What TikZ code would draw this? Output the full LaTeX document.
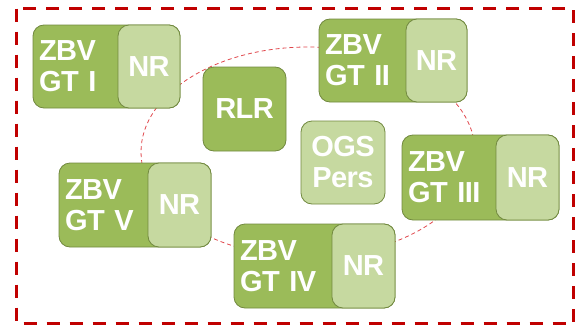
\documentclass[tikz,border=0pt]{standalone}
\usepackage{fontspec}
\setmainfont{Liberation Sans}
\newfontfamily\boxfont[WordSpace=0.45, LetterSpace=-2]{Liberation Sans}
\definecolor{dk}{HTML}{9BBB59}
\definecolor{lt}{HTML}{C6D9A0}
\definecolor{bd}{HTML}{71893F}
\definecolor{redd}{HTML}{C00000}
\definecolor{ell}{HTML}{E0474C}
\tikzset{
  box/.style={draw=bd, line width=0.8pt, rounded corners=11pt, inner sep=0pt, text=white,
    font=\boxfont\fontsize{29}{31}\selectfont\bfseries},
  darkbox/.style={box, fill=dk, align=left},
  lightbox/.style={box, fill=lt, align=center},
  frame/.style={draw=redd, line width=3.5pt, dash pattern=on 13pt off 10pt},
  ring/.style={draw=ell, line width=0.8pt, dash pattern=on 4pt off 3pt},
}
\newcommand\zbvbox[7]{%
  \pgfmathsetmacro\bw{#4-#2}%
  \pgfmathsetmacro\bh{#5-#3}%
  \pgfmathsetmacro\tw{#4-#2-12}%
  \pgfmathsetmacro\nw{#4-#6}%
  \node[darkbox, minimum width=\bw pt, minimum height=\bh pt, text width=\tw pt]
    (#1) at ({(#2+#4)/2},{(#3+#5)/2}) {ZBV\\#7};
  \node[lightbox, minimum width=\nw pt, minimum height=\bh pt]
    (#1nr) at ({(#6+#4)/2},{(#3+#5)/2}) {NR};
}
\begin{document}
\begin{tikzpicture}[x=1pt,y=-1pt]
\useasboundingbox (0,0) rectangle (575,324);
\draw[frame] (16.5,8.7) rectangle (574,323.5);
\draw[ring] (308,152) ellipse [x radius=167pt, y radius=105pt];
\zbvbox{g1}{33}{25}{180}{108}{118}{GT I}
\zbvbox{g2}{319}{19}{467}{102}{406}{GT II}
\zbvbox{g3}{402}{135}{559}{220}{496}{GT III}
\zbvbox{g5}{59}{163}{211}{247}{148}{GT V}
\zbvbox{g4}{234}{224}{395}{308}{332}{GT IV}
\node[darkbox, align=center, minimum width=83pt, minimum height=84pt] (rlr) at (244.5,109) {RLR};
\node[lightbox, minimum width=84pt, minimum height=83pt] (ogs) at (343,162.5) {OGS\\Pers};
\end{tikzpicture}
\end{document}
